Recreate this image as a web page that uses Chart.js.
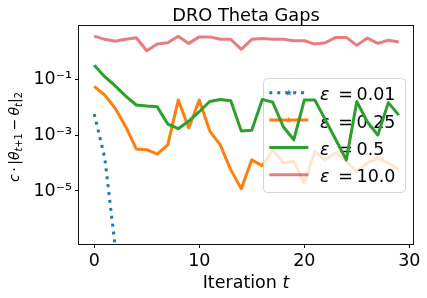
<!DOCTYPE html>
<html>
<head>
<meta charset="utf-8">
<script src="https://cdn.jsdelivr.net/npm/chart.js@4.4.1/dist/chart.umd.min.js"></script>
<style>
  body { margin: 0; background: #fff; }
  canvas { display: block; }
</style>
</head>
<body>
<canvas id="gaps" width="427" height="298"></canvas>
<script>
// iteration index and the gap per epsilon
const iterations = [0, 1, 2, 3, 4, 5, 6, 7, 8, 9, 10, 11, 12, 13, 14, 15, 16, 17, 18, 19, 20, 21, 22, 23, 24, 25, 26, 27, 28, 29];
const gapEps001 = [5.7e-3, 1.55e-4, 1e-7, null, null, null, null, null, null, null, null, null, null, null, null,
                   null, null, null, null, null, null, null, null, null, null, null, null, null, null, null];
const gapEps025 = [0.056, 0.027, 0.0092, 0.002, 3.2e-4, 3.0e-4, 2.1e-4, 4.5e-4, 0.018, 0.0018, 0.018, 0.0014, 4.5e-4, 5.7e-5, 1.2e-5,
                   1.3e-4, 8e-5, 3e-4, 1e-4, 1.15e-4, 1.9e-5, 2.6e-4, 1.3e-4, 2.3e-4, 1.15e-4, 5e-5, 1e-4, 1.5e-4, 1e-4, 5.7e-5];
const gapEps05 = [0.32, 0.124, 0.058, 0.025, 0.012, 0.011, 0.0103, 0.0025, 0.0017, 0.0032, 0.0069, 0.016, 0.019, 0.017, 0.0014,
                  0.0015, 0.019, 0.015, 0.002, 6.8e-4, 0.018, 0.018, 0.0036, 6.8e-4, 1.3e-4, 0.016, 0.003, 0.001, 0.0146, 0.0052];
const gapEps10 = [3.5, 2.7, 2.3, 2.7, 3.06, 1.05, 1.82, 2.03, 3.5, 1.93, 3.3, 3.3, 2.7, 2.7, 1.18,
                  2.7, 2.9, 2.7, 2.7, 2.4, 2.4, 1.82, 2.03, 3.16, 3.16, 1.64, 2.99, 1.93, 2.5, 2.15];
const epsLabels = ['0.01', '0.25', '0.5', '10.0'];
const xTicks = [0, 10, 20, 30];
const yTicks = [1e-5, 1e-3, 1e-1];

const FONT = '"DejaVu Sans"';
const colors = ['#1f77b4', '#ff7f0e', '#2ca02c', 'rgba(214,39,40,0.6)'];

const sup = { '-': '\u207b', '0': '\u2070', '1': '\u00b9', '2': '\u00b2', '3': '\u00b3', '4': '\u2074', '5': '\u2075', '6': '\u2076', '7': '\u2077' };
function powLabel(v) {
  const e = String(Math.round(Math.log10(v)));
  return '10' + e.split('').map(c => sup[c]).join('');
}

function pts(vals) {
  return iterations.map((t, i) => ({ x: t, y: vals[i] }));
}

// text made of pieces: {t, it, sub} or {gap}
function piecesWidth(ctx, pieces, size) {
  let w = 0;
  pieces.forEach(p => {
    if (p.gap) { w += p.gap; return; }
    const s = p.sub ? size * 0.7 : size;
    ctx.font = (p.it ? 'oblique ' : '') + s + 'px ' + FONT;
    w += ctx.measureText(p.t).width;
  });
  return w;
}
function drawPieces(ctx, pieces, x, y, size) {
  pieces.forEach(p => {
    if (p.gap) { x += p.gap; return; }
    const s = p.sub ? size * 0.7 : size;
    ctx.font = (p.it ? 'oblique ' : '') + s + 'px ' + FONT;
    ctx.fillText(p.t, x, y + (p.sub ? size * 0.22 : 0));
    x += ctx.measureText(p.t).width;
  });
}

function star(ctx, cx, cy, r, color) {
  ctx.beginPath();
  for (let k = 0; k < 10; k++) {
    const a = -Math.PI / 2 + k * Math.PI / 5;
    const rr = k % 2 ? r * 0.4 : r;
    ctx.lineTo(cx + rr * Math.cos(a), cy + rr * Math.sin(a));
  }
  ctx.closePath();
  ctx.fillStyle = color;
  ctx.fill();
}

function drawLegend(ctx) {
  ctx.save();
  ctx.beginPath();
  ctx.roundRect(263.5, 78.5, 142, 114, 4);
  ctx.fillStyle = 'rgba(255,255,255,0.8)';
  ctx.fill();
  ctx.strokeStyle = 'rgba(204,204,204,0.8)';
  ctx.lineWidth = 1;
  ctx.stroke();
  const rows = [92.8, 120.1, 147.4, 174.7];
  rows.forEach((ry, i) => {
    ctx.beginPath();
    ctx.setLineDash(i === 0 ? [3, 4.95] : []);
    ctx.moveTo(269.3, ry);
    ctx.lineTo(308.3, ry);
    ctx.strokeStyle = colors[i];
    ctx.lineWidth = 3;
    ctx.stroke();
    ctx.setLineDash([]);
    if (i < 2) star(ctx, 288.8, ry, 3.5, colors[i]);
    ctx.fillStyle = '#000';
    ctx.textAlign = 'left';
    ctx.textBaseline = 'alphabetic';
    ctx.font = 'oblique 17.5px ' + FONT;
    ctx.fillText('\u03b5', 320, ry + 7.5);
    ctx.font = '17.5px ' + FONT;
    ctx.fillText('=', 338.3, ry + 7.5);
    ctx.fillText(epsLabels[i], 356.5, ry + 7.5);
  });
  ctx.restore();
}

const textPlugin = {
  id: 'texts',
  beforeDatasetDraw(chart, args) {
    if (args.index === 2) drawLegend(chart.ctx);
  },
  afterDraw(chart) {
    const ctx = chart.ctx;
    const ca = chart.chartArea;
    const cx = (ca.left + ca.right) / 2;
    ctx.save();
    // frame
    ctx.strokeStyle = '#111';
    ctx.lineWidth = 1;
    ctx.strokeRect(Math.round(ca.left) - 0.5, Math.round(ca.top) - 0.5, Math.round(ca.right - ca.left) + 1, Math.round(ca.bottom - ca.top) + 1);
    ctx.fillStyle = '#000';
    ctx.textBaseline = 'alphabetic';
    ctx.textAlign = 'center';
    ctx.font = '17.8px ' + FONT;
    ctx.fillText('DRO Theta Gaps', cx, 20.6);
    ctx.textAlign = 'left';
    const xl = [{ t: 'Iteration ' }, { t: 't', it: 1 }];
    drawPieces(ctx, xl, cx - piecesWidth(ctx, xl, 17.5) / 2, 288.3, 17.5);
    const yl = [{ t: 'c', it: 1 }, { gap: 2.5 }, { t: '\u00b7' }, { gap: 2.5 }, { t: '|' }, { t: '\u03b8', it: 1 },
                { t: 't', it: 1, sub: 1 }, { t: '+', sub: 1 }, { t: '1', sub: 1 }, { gap: 3 }, { t: '\u2212' }, { gap: 3 },
                { t: '\u03b8', it: 1 }, { t: 't', it: 1, sub: 1 }, { t: '|' }, { t: '2', sub: 1 }];
    ctx.translate(18.5, 137);
    ctx.rotate(-Math.PI / 2);
    drawPieces(ctx, yl, -piecesWidth(ctx, yl, 14) / 2, 0, 14);
    ctx.restore();
  }
};

new Chart(document.getElementById('gaps'), {
  type: 'line',
  data: {
    datasets: [
      { data: pts(gapEps001), borderColor: colors[0], borderWidth: 3, borderDash: [3, 4.95], order: 3 },
      { data: pts(gapEps025), borderColor: colors[1], borderWidth: 3, order: 2 },
      { data: pts(gapEps05), borderColor: colors[2], borderWidth: 3, order: 1 },
      { data: pts(gapEps10), borderColor: colors[3], borderWidth: 3, order: 0 }
    ]
  },
  options: {
    responsive: false,
    animation: false,
    devicePixelRatio: 1,
    layout: { padding: { top: 26, right: 14, left: 0, bottom: 0 } },
    elements: { point: { radius: 0 }, line: { tension: 0, fill: false, borderJoinStyle: 'round' } },
    datasets: { line: { clip: 0, spanGaps: false } },
    plugins: { legend: { display: false }, title: { display: false }, tooltip: { enabled: false } },
    scales: {
      x: {
        type: 'linear',
        min: -1.45,
        max: 30.35,
        afterBuildTicks: s => { s.ticks = xTicks.map(v => ({ value: v })); },
        afterFit: s => { s.height = 54; },
        border: { display: false },
        grid: { drawOnChartArea: false, drawTicks: true, tickLength: 4, tickColor: '#000' },
        ticks: { font: { family: FONT, size: 17.5 }, color: '#000', padding: 3, maxRotation: 0 }
      },
      y: {
        type: 'logarithmic',
        min: 1.26e-7,
        max: 8.1,
        afterBuildTicks: s => { s.ticks = yTicks.map(v => ({ value: v })); },
        afterFit: s => { s.width = 79; },
        border: { display: false },
        grid: { drawOnChartArea: false, drawTicks: true, tickLength: 4, tickColor: '#000' },
        ticks: { font: { family: FONT, size: 17.5 }, color: '#000', padding: 3, callback: v => powLabel(v) }
      }
    }
  },
  plugins: [textPlugin]
});
</script>
</body>
</html>
